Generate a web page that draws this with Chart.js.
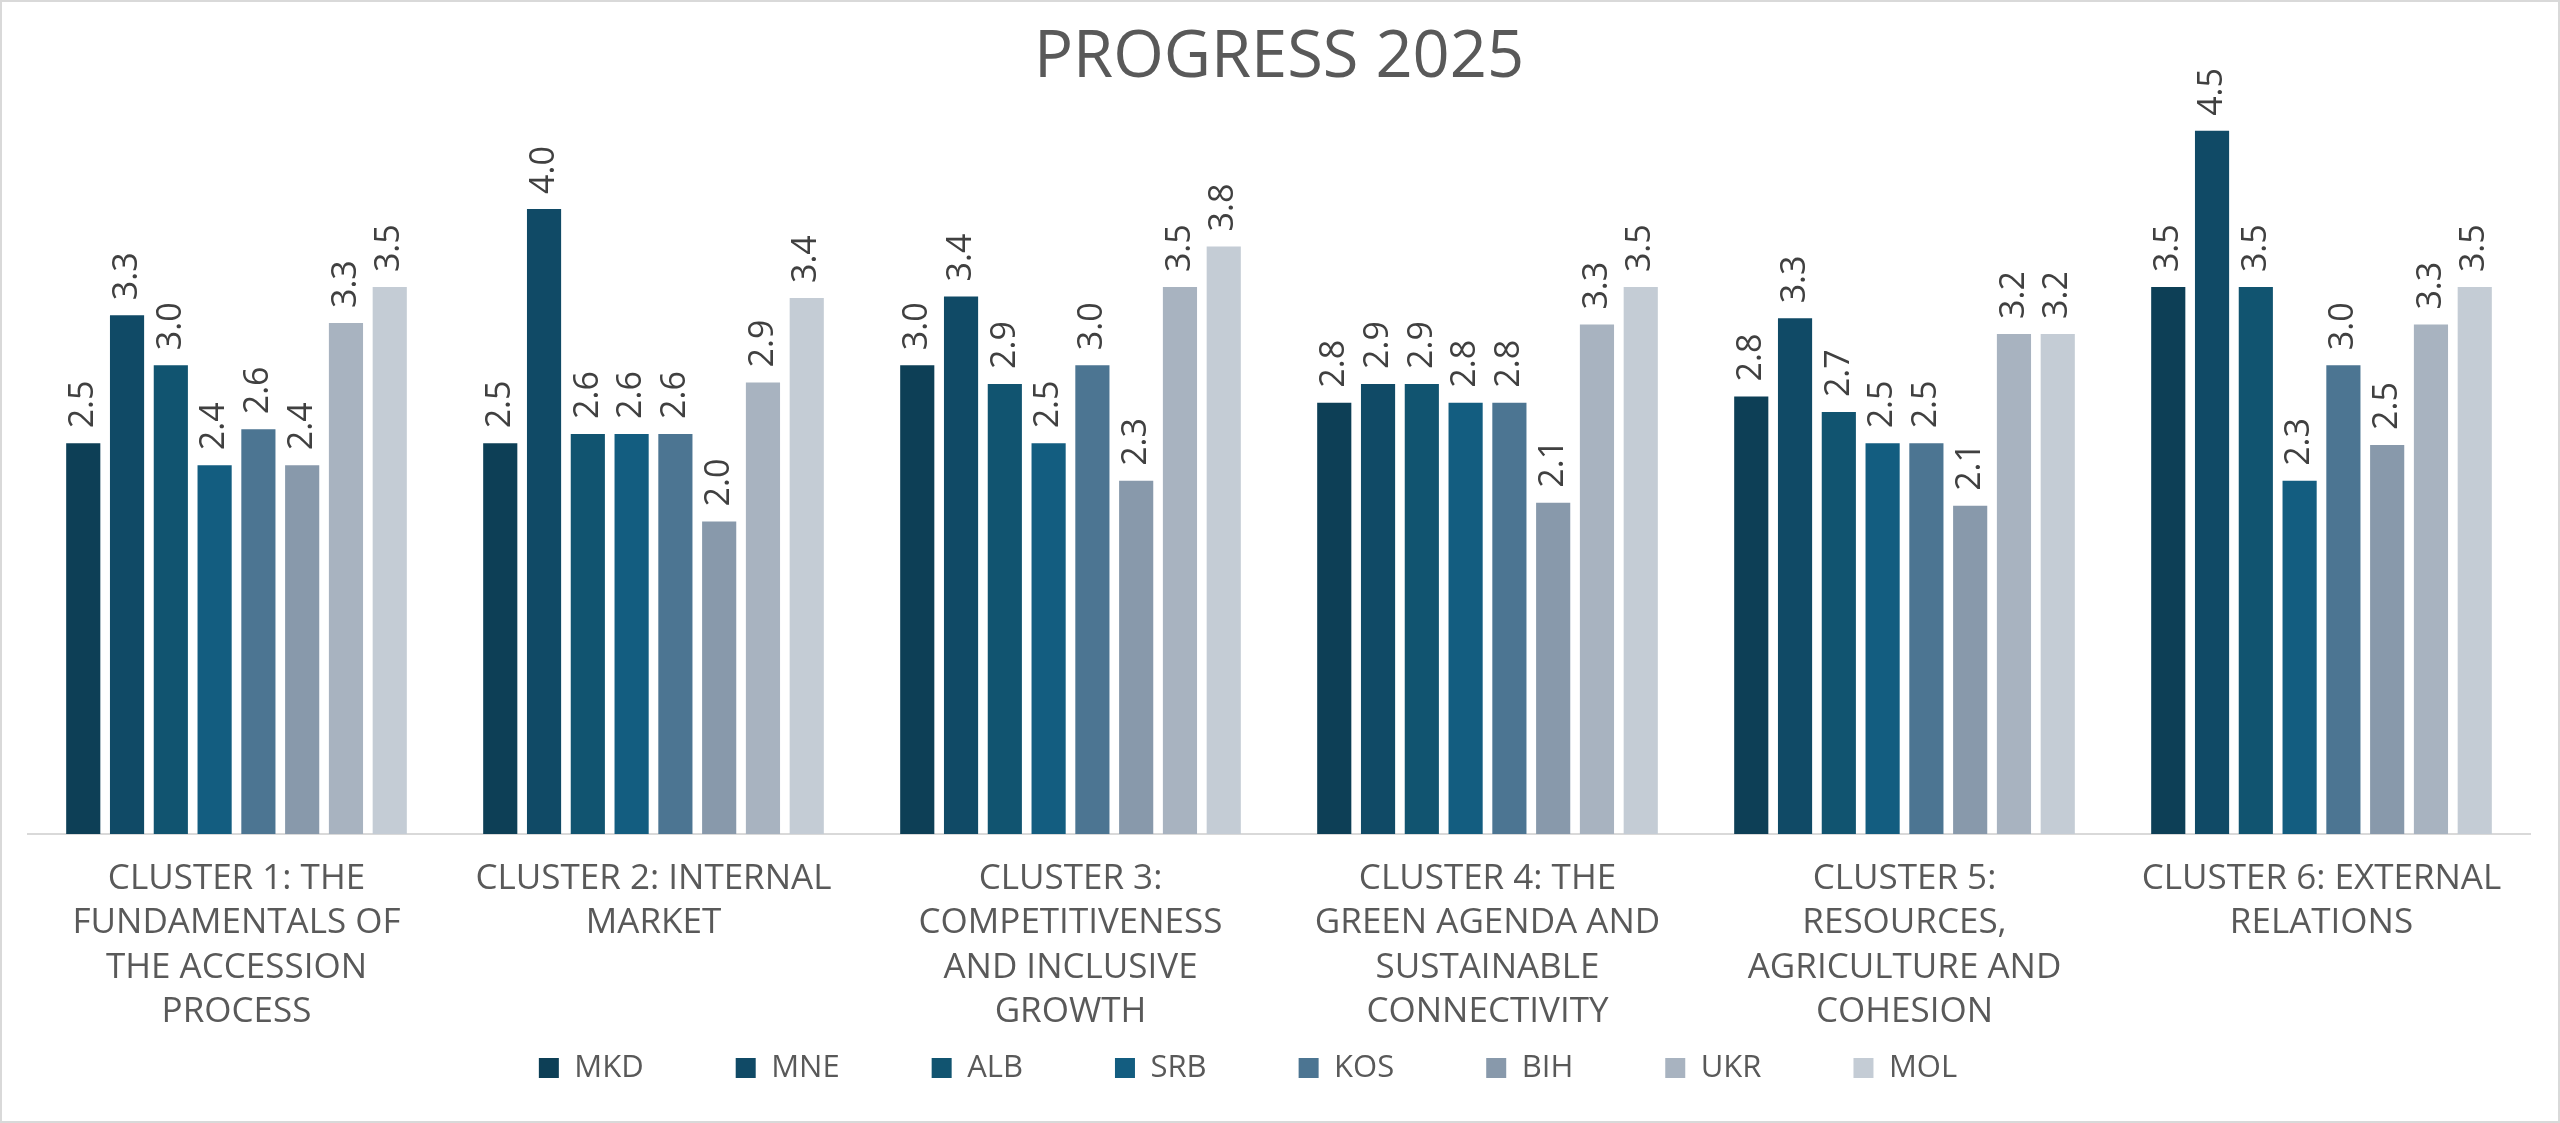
<!DOCTYPE html>
<html>
<head>
<meta charset="utf-8">
<title>Progress 2025</title>
<script src="https://cdn.jsdelivr.net/npm/chart.js@4.4.1/dist/chart.umd.min.js"></script>
<style>
  html, body { margin: 0; padding: 0; background: #fff; }
  #frame {
    position: absolute; left: 0; top: 0;
    width: 2560px; height: 1123px;
    box-sizing: border-box;
    border: 2px solid #d9d9d9;
    background: #fff;
  }
  #wrap { position: relative; width: 2556px; height: 1119px; }
</style>
</head>
<body>
<div id="frame"><div id="wrap"><canvas id="progressChart"></canvas></div></div>
<script>
// categories (x axis), each label split in lines as in the report
const clusters = [
    ['CLUSTER 1: THE', 'FUNDAMENTALS OF', 'THE ACCESSION', 'PROCESS'],
    ['CLUSTER 2: INTERNAL', 'MARKET'],
    ['CLUSTER 3:', 'COMPETITIVENESS', 'AND INCLUSIVE', 'GROWTH'],
    ['CLUSTER 4: THE', 'GREEN AGENDA AND', 'SUSTAINABLE', 'CONNECTIVITY'],
    ['CLUSTER 5:', 'RESOURCES,', 'AGRICULTURE AND', 'COHESION'],
    ['CLUSTER 6: EXTERNAL', 'RELATIONS']
];

const countries = ['MKD', 'MNE', 'ALB', 'SRB', 'KOS', 'BIH', 'UKR', 'MOL'];

// scores per country, one value per cluster
const mkd = [2.50, 2.50, 3.00, 2.76, 2.80, 3.50];
const mne = [3.32, 4.00, 3.44, 2.88, 3.30, 4.50];
const alb = [3.00, 2.56, 2.88, 2.88, 2.70, 3.50];
const srb = [2.36, 2.56, 2.50, 2.76, 2.50, 2.26];
const kos = [2.59, 2.56, 3.00, 2.76, 2.50, 3.00];
const bih = [2.36, 2.00, 2.26, 2.12, 2.10, 2.49];
const ukr = [3.27, 2.89, 3.50, 3.26, 3.20, 3.26];
const mol = [3.50, 3.43, 3.76, 3.50, 3.20, 3.50];

const series = [mkd, mne, alb, srb, kos, bih, ukr, mol];
const colors = ['#0d3f56', '#104a66', '#115470', '#135d80', '#4c7592', '#8899ab', '#a8b3c0', '#c4ccd5'];

const FONT = '"Open Sans", "Noto Sans", sans-serif';

// rotated value labels above every bar
const valueLabels = {
    id: 'valueLabels',
    afterDatasetsDraw(chart) {
        const ctx = chart.ctx;
        ctx.save();
        ctx.font = '34px ' + FONT;
        ctx.fillStyle = '#404040';
        ctx.textAlign = 'left';
        ctx.textBaseline = 'middle';
        chart.data.datasets.forEach((ds, i) => {
            chart.getDatasetMeta(i).data.forEach((bar, j) => {
                ctx.save();
                ctx.translate(bar.x, bar.y - 15);
                ctx.rotate(-Math.PI / 2);
                ctx.fillText(ds.data[j].toFixed(1), 0, 0);
                ctx.restore();
            });
        });
        ctx.restore();
    }
};

// legend shares the space under the long category labels,
// and sits a little left of the middle like in the report
const layoutTweaks = {
    id: 'layoutTweaks',
    afterLayout(chart) {
        chart.scales.x.bottom = chart.height;
        chart.legend.left -= 31;
        chart.legend.right -= 31;
    }
};

const datasets = countries.map((name, i) => ({
    label: name,
    data: series[i],
    backgroundColor: colors[i],
    borderWidth: 0,
    categoryPercentage: 0.84,
    barPercentage: 0.78
}));

const ctx = document.getElementById('progressChart');
new Chart(ctx, {
    type: 'bar',
    data: { labels: clusters, datasets: datasets },
    plugins: [valueLabels, layoutTweaks],
    options: {
        responsive: true,
        maintainAspectRatio: false,
        animation: false,
        layout: { padding: { left: 26, right: 28, top: 0, bottom: 27.5 } },
        scales: {
            y: {
                display: false,
                min: 0,
                max: 4.7
            },
            x: {
                grid: { display: false, drawTicks: false },
                border: { display: true, color: '#d9d9d9', width: 2 },
                ticks: {
                    autoSkip: false,
                    maxRotation: 0,
                    minRotation: 0,
                    padding: 22.75,
                    color: '#595959',
                    font: { family: FONT, size: 35, lineHeight: 1.271 }
                },
                afterFit(scale) {
                    scale.height = 126.5;
                }
            }
        },
        plugins: {
            title: {
                display: true,
                text: 'PROGRESS 2025',
                color: '#595959',
                font: { family: FONT, size: 65, weight: 'normal', lineHeight: 1.2 },
                padding: { top: 17, bottom: 2.6 }
            },
            legend: {
                position: 'bottom',
                labels: {
                    boxWidth: 20,
                    boxHeight: 20,
                    padding: 92,
                    color: '#595959',
                    font: { family: FONT, size: 31 }
                }
            },
            tooltip: { enabled: false }
        }
    }
});
</script>
</body>
</html>
